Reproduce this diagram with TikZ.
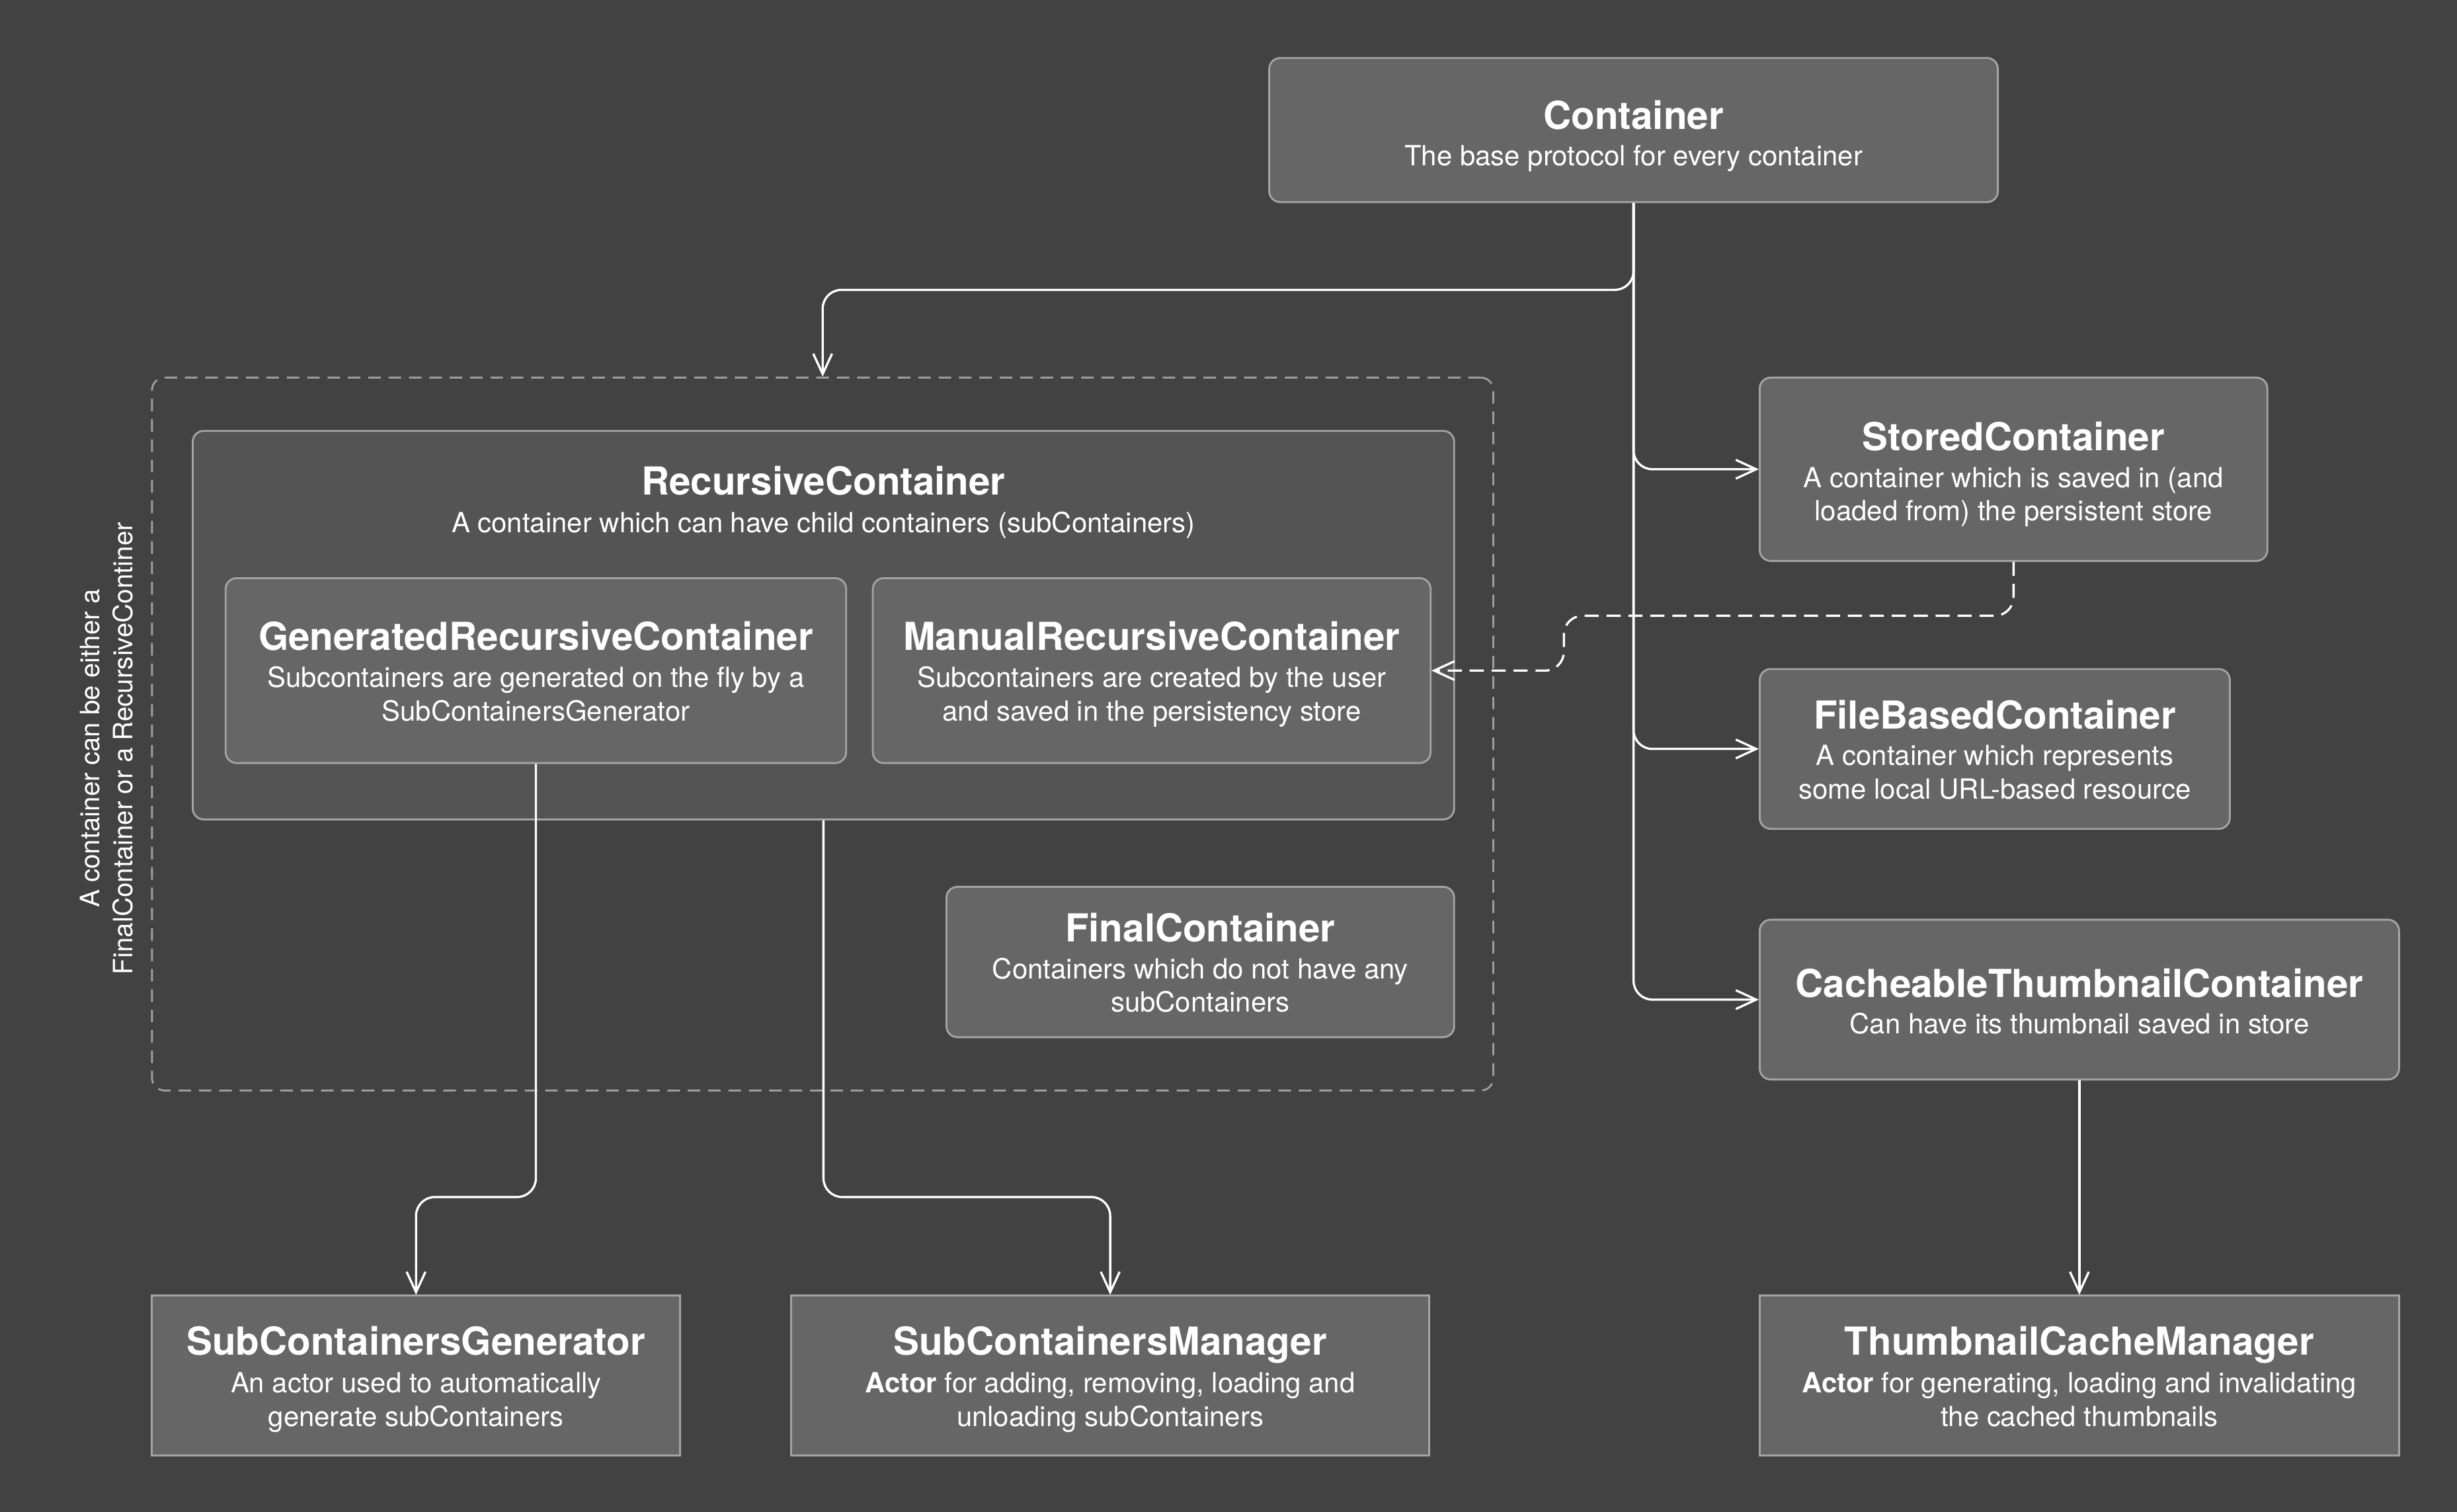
\documentclass[tikz,border=0pt]{standalone}
\usepackage{fontspec}
\setmainfont{TeX Gyre Heros}
\usetikzlibrary{arrows.meta}
\definecolor{bg}{HTML}{424242}
\definecolor{boxfill}{HTML}{666666}
\definecolor{recfill}{HTML}{545454}
\definecolor{bordercol}{HTML}{A4A4A4}
\definecolor{groupcol}{HTML}{9E9E9E}
\begin{document}
\begin{tikzpicture}[x=1pt,y=-1pt,
  box/.style={draw=bordercol, fill=boxfill, line width=1.2pt, rounded corners=7pt, inner sep=0pt},
  sqbox/.style={box, sharp corners},
  ttl/.style={text=white, font=\fontsize{24.6}{28}\selectfont\bfseries, anchor=base, inner sep=0pt},
  sub/.style={text=white, font=\fontsize{17.7}{21.5}\selectfont, anchor=base, inner sep=0pt},
  note/.style={text=white, font=\fontsize{17}{21}\selectfont, anchor=base, inner sep=0pt, rotate=90},
  conn/.style={draw=white, line width=1.4pt, rounded corners=12pt, -{Straight Barb[length=13pt,width=12pt]}},
  dconn/.style={conn, dash pattern=on 9pt off 5pt},
]
\useasboundingbox (0,0) rectangle (1568,965);
\fill[bg] (0,0) rectangle (1568,965);

% group
\node[draw=groupcol, line width=1.2pt, dash pattern=on 8pt off 5pt, rounded corners=8pt,
      minimum width=856pt, minimum height=455pt, inner sep=0pt] (group) at (525,468.5) {};
\node[note] (note1) at (63.3,477.7) {A container can be either a};
\node[note] (note2) at (84.4,477.7) {FinalContainer or a RecursiveContiner};

% boxes
\node[box, minimum width=465pt, minimum height=92pt] (container) at (1042.5,83) {};
\node[box, fill=recfill, minimum width=805pt, minimum height=248pt] (recursive) at (525.5,399) {};
\node[box, minimum width=396pt, minimum height=118pt] (generated) at (342,428) {};
\node[box, minimum width=356pt, minimum height=118pt] (manual) at (735,428) {};
\node[box, minimum width=324pt, minimum height=96pt] (final) at (766,614) {};
\node[box, minimum width=324pt, minimum height=117pt] (stored) at (1285,299.5) {};
\node[box, minimum width=300pt, minimum height=102pt] (filebased) at (1273,478) {};
\node[box, minimum width=408pt, minimum height=102pt] (cacheable) at (1327,638) {};
\node[sqbox, minimum width=337pt, minimum height=102pt] (subgen) at (265.5,878) {};
\node[sqbox, minimum width=407pt, minimum height=102pt] (submgr) at (708.5,878) {};
\node[sqbox, minimum width=408pt, minimum height=102pt] (thumb) at (1327,878) {};

% texts
\node[ttl] (containerT) at (1042.5,82.3) {Container};
\node[sub] (containerS) at (1042.5,105.5) {The base protocol for every container};

\node[ttl] (recursiveT) at (525.5,316) {RecursiveContainer};
\node[sub] (recursiveS) at (525.5,339.8) {A container which can have child containers (subContainers)};

\node[ttl] (generatedT) at (342,415) {GeneratedRecursiveContainer};
\node[sub] (generatedS1) at (342,438.5) {Subcontainers are generated on the fly by a};
\node[sub] (generatedS2) at (342,460) {SubContainersGenerator};

\node[ttl] (manualT) at (735,415) {ManualRecursiveContainer};
\node[sub] (manualS1) at (735,438.5) {Subcontainers are created by the user};
\node[sub] (manualS2) at (735,460) {and saved in the persistency store};

\node[ttl] (finalT) at (766,601) {FinalContainer};
\node[sub] (finalS1) at (766,624.5) {Containers which do not have any};
\node[sub] (finalS2) at (766,646) {subContainers};

\node[ttl] (storedT) at (1285,287.7) {StoredContainer};
\node[sub] (storedS1) at (1285,311) {A container which is saved in (and};
\node[sub] (storedS2) at (1285,332.3) {loaded from) the persistent store};

\node[ttl] (filebasedT) at (1273,465) {FileBasedContainer};
\node[sub] (filebasedS1) at (1273,488.5) {A container which represents};
\node[sub] (filebasedS2) at (1273,510) {some local URL-based resource};

\node[ttl] (cacheableT) at (1327,636.4) {CacheableThumbnailContainer};
\node[sub] (cacheableS) at (1327,659.6) {Can have its thumbnail saved in store};

\node[ttl] (subgenT) at (265.5,865) {SubContainersGenerator};
\node[sub] (subgenS1) at (265.5,889) {An actor used to automatically};
\node[sub] (subgenS2) at (265.5,910.5) {generate subContainers};

\node[ttl] (submgrT) at (708.5,865) {SubContainersManager};
\node[sub] (submgrS1) at (708.5,889) {\textbf{Actor} for adding, removing, loading and};
\node[sub] (submgrS2) at (708.5,910.5) {unloading subContainers};

\node[ttl] (thumbT) at (1327,865) {ThumbnailCacheManager};
\node[sub] (thumbS1) at (1327,889) {\textbf{Actor} for generating, loading and invalidating};
\node[sub] (thumbS2) at (1327,910.5) {the cached thumbnails};

% helper coordinates
\coordinate (yA) at (0,185);
\coordinate (d1) at (998,393);
\coordinate (d2) at (998,428);
\coordinate (yB) at (0,764);

% connectors
\draw[conn] (container.south) -- (container.south |- yA) -- (group.north |- yA) -- (group.north);
\draw[conn] (container.south) |- (stored.west);
\draw[conn] (container.south) |- (filebased.west);
\draw[conn] (container.south) |- (cacheable.west);
\draw[dconn] (stored.south) -- (stored.south |- d1) -- (d1) -- (d2) -- (manual.east);
\draw[conn] (generated.south) -- (generated.south |- yB) -- (subgen.north |- yB) -- (subgen.north);
\draw[conn] (recursive.south) -- (recursive.south |- yB) -- (submgr.north |- yB) -- (submgr.north);
\draw[conn] (cacheable.south) -- (thumb.north);
\end{tikzpicture}
\end{document}
